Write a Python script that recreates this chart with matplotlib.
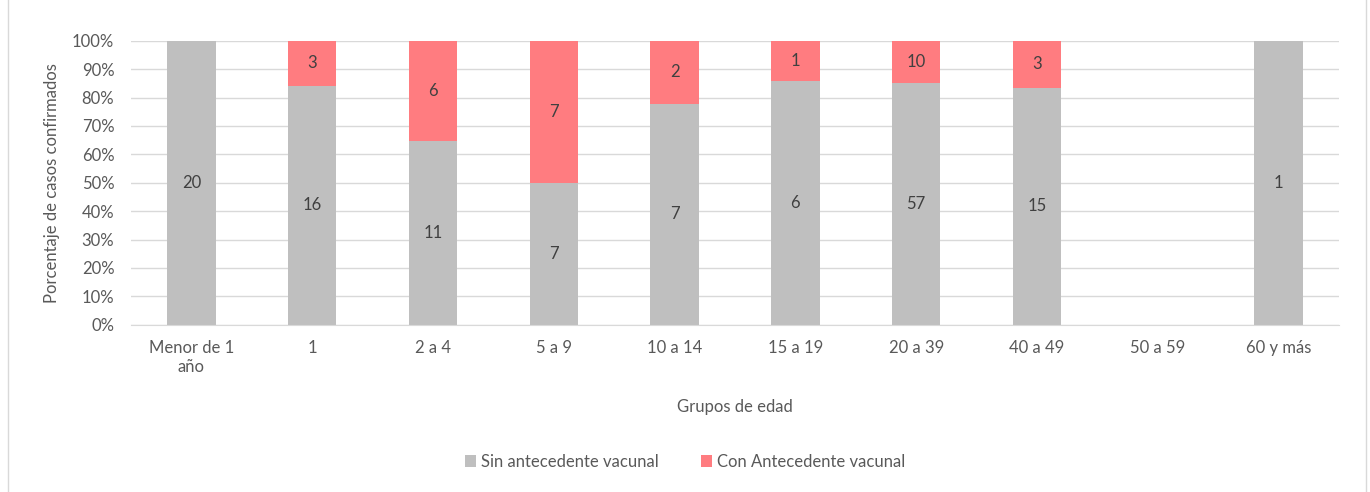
import matplotlib
matplotlib.use("Agg")
import matplotlib.pyplot as plt
from matplotlib.patches import Rectangle
import numpy as np

categories = ["Menor de 1\naño", "1", "2 a 4", "5 a 9", "10 a 14", "15 a 19",
              "20 a 39", "40 a 49", "50 a 59", "60 y más"]
sin_vac = [20, 16, 11, 7, 7, 6, 57, 15, 0, 1]
con_vac = [0, 3, 6, 7, 2, 1, 10, 3, 0, 0]
yticks = [0, 10, 20, 30, 40, 50, 60, 70, 80, 90, 100]

plt.rcParams['font.family'] = ['Lato', 'DejaVu Sans']
txt = '#595959'
gray = '#BFBFBF'
red = '#FF7C80'
fs = 12

W, H = 1370, 492
fig = plt.figure(figsize=(W/100, H/100), dpi=100)
ax = fig.add_axes([131/W, 1 - 324.7/H, (1339-131)/W, (324.7-40.7)/H])

sin = np.array(sin_vac, float)
con = np.array(con_vac, float)
tot = sin + con
with np.errstate(invalid='ignore', divide='ignore'):
    p_sin = np.where(tot > 0, sin / tot * 100, 0)
    p_con = np.where(tot > 0, con / tot * 100, 0)
x = np.arange(len(categories))
ax.bar(x, p_sin, width=0.4, color=gray, zorder=2, label='Sin antecedente vacunal')
ax.bar(x, p_con, width=0.4, bottom=p_sin, color=red, zorder=2, label='Con Antecedente vacunal')

for i in range(len(categories)):
    if sin[i] > 0:
        ax.text(x[i], p_sin[i]/2, f"{int(sin[i])}", ha='center', va='center', fontsize=fs, color='#404040', zorder=3)
    if con[i] > 0:
        ax.text(x[i], p_sin[i] + p_con[i]/2, f"{int(con[i])}", ha='center', va='center', fontsize=fs, color='#404040', zorder=3)

ax.set_xlim(-0.5, len(categories) - 0.5)
ax.set_ylim(0, 100)
ax.set_yticks(yticks)
ax.set_yticklabels([f"{v}%" for v in yticks])
ax.set_xticks(x)
ax.set_xticklabels(categories, linespacing=1.25)
ax.tick_params(axis='both', length=0, labelsize=fs, colors=txt)
ax.tick_params(axis='x', pad=11)
ax.tick_params(axis='y', pad=12)
ax.grid(axis='y', color='#D9D9D9', linewidth=1, zorder=0)
for s in ['top', 'right', 'left']:
    ax.spines[s].set_visible(False)
ax.spines['bottom'].set_color('#D9D9D9')
ax.set_ylabel('Porcentaje de casos confirmados', fontsize=fs, color=txt, labelpad=9)
ax.set_xlabel('Grupos de edad', fontsize=fs, color=txt, labelpad=17)

fig.legend(loc='center', bbox_to_anchor=(0.5, 1 - 462/H), ncol=2, frameon=False,
           fontsize=fs, labelcolor=txt, handlelength=0.7, handleheight=0.7,
           handletextpad=0.3, columnspacing=2.5)

fig.patches.append(Rectangle((8/W, -0.01), (1366-8)/W, 1.05, transform=fig.transFigure,
                             fill=False, edgecolor='#D9D9D9', linewidth=1))

fig.savefig('out.png', dpi=100, facecolor='white')
